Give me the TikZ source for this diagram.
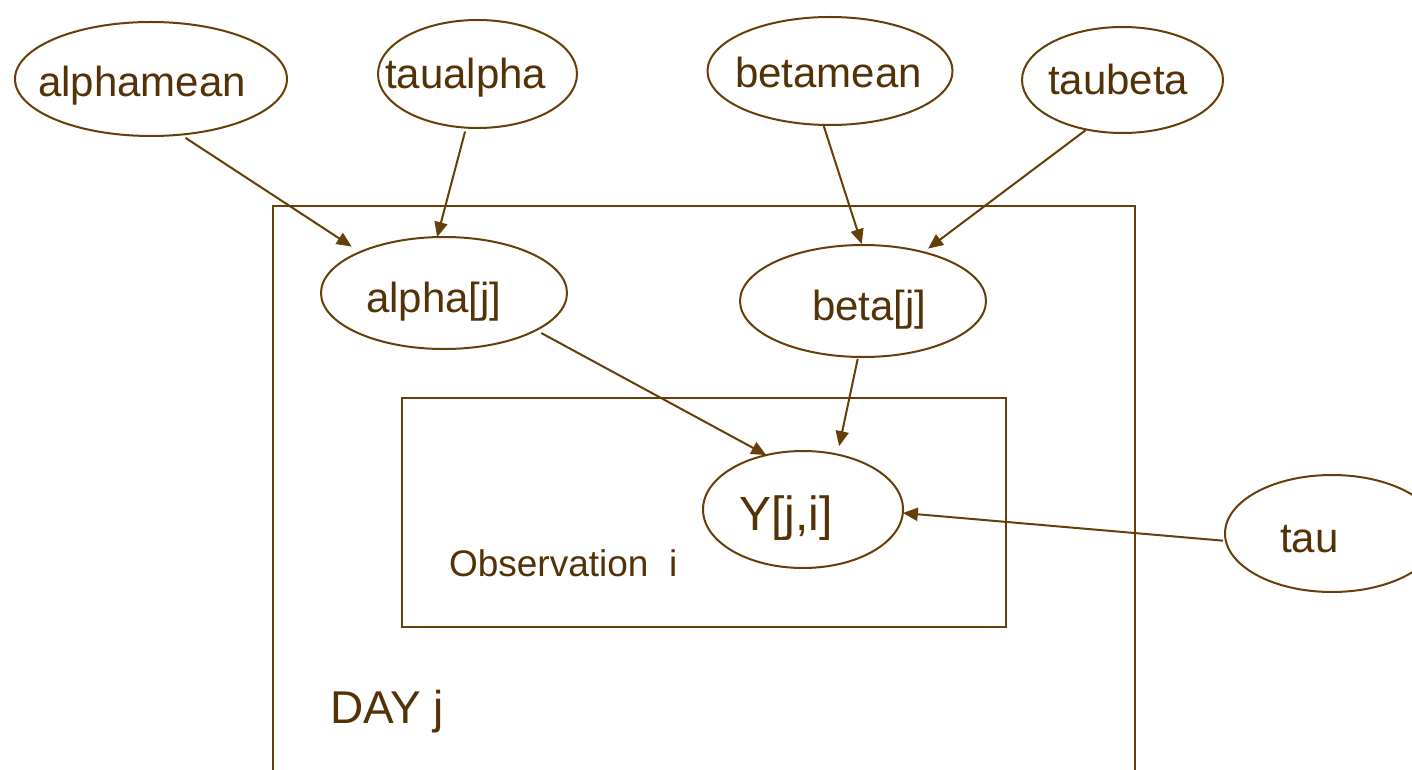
\documentclass[tikz,border=0pt]{standalone}
\usepackage{fontspec}
\setmainfont{Liberation Sans}
\usetikzlibrary{shapes.geometric,arrows.meta}
\definecolor{brownline}{RGB}{102,62,8}
\definecolor{browntext}{RGB}{82,50,6}
\tikzset{
  varnode/.style={ellipse,draw=brownline,line width=1pt,inner sep=0pt,outer sep=0pt},
  lbl/.style={inner sep=0pt,outer sep=0pt,anchor=base west,text=browntext,font=\fontsize{21}{25}\selectfont},
  plate/.style={draw=brownline,line width=1pt},
  edge/.style={draw=brownline,line width=1pt,-{Triangle[length=7.5pt,width=6.5pt]}}
}
\begin{document}
\begin{tikzpicture}[x=0.5pt,y=-0.5pt]
\useasboundingbox (0,0) rectangle (1412,770);
\clip (0,0) rectangle (1412,770);
\fill[white] (0,0) rectangle (1412,770);
% plates
\draw[plate] (273,206) rectangle (1135,800);
\draw[plate] (402,398) rectangle (1006,627);
% variable ellipses
\node[varnode,minimum width=136pt,minimum height=57pt] (alphamean) at (151,79) {};
\node[varnode,minimum width=99.5pt,minimum height=54pt] (taualpha) at (477.5,74) {};
\node[varnode,minimum width=122.5pt,minimum height=54pt] (betamean) at (830,71) {};
\node[varnode,minimum width=100.5pt,minimum height=53pt] (taubeta) at (1122.5,80) {};
\node[varnode,minimum width=123pt,minimum height=56pt] (alphaj) at (444,293) {};
\node[varnode,minimum width=123pt,minimum height=56pt] (betaj) at (863,301) {};
\node[varnode,minimum width=100pt,minimum height=58.5pt] (Y) at (803,509.5) {};
\node[varnode,minimum width=107pt,minimum height=58.5pt] (tau) at (1332,533.5) {};
% labels
\node[lbl] (alphameanT) at (38,97) {alphamean};
\node[lbl] (taualphaT) at (385,89) {taualpha};
\node[lbl] (betameanT) at (735,88) {betamean};
\node[lbl] (taubetaT) at (1048,95) {taubeta};
\node[lbl] (alphajT) at (366,312) {alpha[j]};
\node[lbl] (betajT) at (812,320) {beta[j]};
\node[lbl,font=\fontsize{24}{28}\selectfont] (YT) at (739,530) {Y[j,i]};
\node[lbl] (tauT) at (1280,552) {tau};
\node[lbl,font=\fontsize{18.5}{22}\selectfont] (obsT) at (449,576) {Observation\ \ i};
\node[lbl,font=\fontsize{23}{27}\selectfont] (dayT) at (330,723) {DAY j};
% connectors
\draw[edge,shorten <=3pt,shorten >=5pt] (alphamean.-62.3) -- (alphaj.154.4);
\draw[edge,shorten <=2pt] (taualpha.-102.2) -- (alphaj.97.5);
\draw[edge,shorten >=0.5pt] (betamean.-97.4) -- (betaj.91);
\draw[edge,shorten <=0.5pt,shorten >=3pt] (taubeta.-126.9) -- (betaj.39.6);
\draw[edge,shorten <=3pt] (alphaj.-22.4) -- (Y.124.2);
\draw[edge,shorten <=1pt,shorten >=4.3pt] (betaj.-95.9) -- (Y.58.7);
\draw[edge,shorten <=1.5pt] (tau.-176.1) -- (Y.-2);
\end{tikzpicture}
\end{document}
